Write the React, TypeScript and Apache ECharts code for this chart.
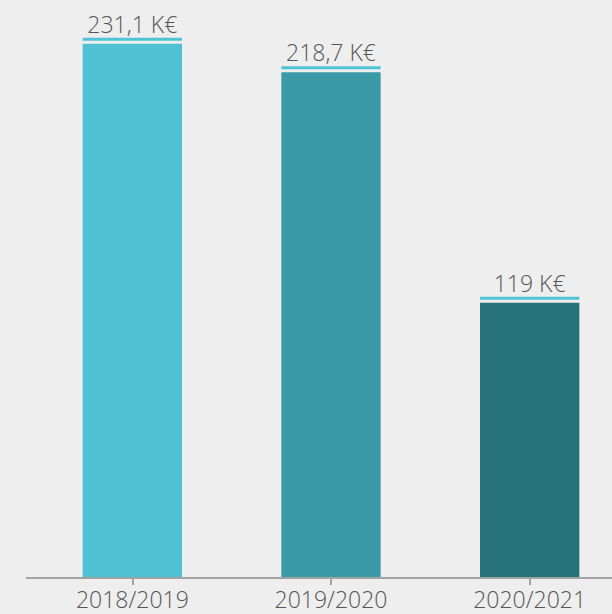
import React, { useEffect, useRef } from "react";
import * as echarts from "echarts";

const categories = ["2018/2019", "2019/2020", "2020/2021"];
const values = [231.1, 218.7, 119];
const valueLabels = ["231,1 K€", "218,7 K€", "119 K€"];
const barColors = ["#4fc1d2", "#3a9aa7", "#26737b"];

export default function App() {
  const ref = useRef<HTMLDivElement>(null);
  useEffect(() => {
    if (!ref.current) return;
    const chart = echarts.init(ref.current, null, { renderer: "svg" });
    const font = "'Open Sans', 'Noto Sans', sans-serif";
    chart.setOption({
      animation: false,
      backgroundColor: "#eeeeee",
      grid: { left: 33, right: 0, top: 0, height: 578, containLabel: false },
      xAxis: [
        {
          type: "category",
          data: categories,
          axisLine: { show: false },
          axisTick: { show: true, alignWithLabel: true, length: 7, lineStyle: { color: "#a3a3a3", width: 2 } },
          axisLabel: { color: "#555555", fontSize: 23, fontWeight: 300, fontFamily: font, margin: 9 },
        },
        {
          type: "category",
          data: categories,
          position: "bottom",
          axisLine: { show: false },
          axisTick: { show: true, inside: true, alignWithLabel: true, length: 6, lineStyle: { color: "#a3a3a3", width: 2 } },
          axisLabel: { show: false },
        },
      ],
      yAxis: {
        type: "value",
        min: 0,
        max: 250,
        show: false,
        splitLine: { show: false },
      },
      graphic: [
        {
          type: "line",
          shape: { x1: 26, y1: 578, x2: 640, y2: 578 },
          style: { stroke: "#a3a3a3", lineWidth: 2 },
          z: 10,
        },
      ],
      series: [
        {
          type: "bar",
          barWidth: "50%",
          data: values.map((v, i) => ({ value: v, itemStyle: { color: barColors[i] } })),
          z: 2,
        },
        {
          type: "custom",
          clip: false,
          z: 5,
          data: values.map((v, i) => [i, v]),
          renderItem: (params: any, api: any) => {
            const idx = params.dataIndex;
            const pt = api.coord([api.value(0), api.value(1)]);
            const band = api.size([1, 0])[0];
            const w = band * 0.5;
            const top = pt[1];
            return {
              type: "group",
              children: [
                {
                  type: "rect",
                  shape: { x: pt[0] - w / 2, y: top - 6, width: w, height: 3 },
                  style: { fill: "#4cc4d6" },
                },
                {
                  type: "text",
                  x: pt[0],
                  y: top - 20,
                  style: {
                    text: valueLabels[idx],
                    fill: "#555555",
                    fontSize: 23,
                    fontWeight: 300,
                    fontFamily: font,
                    align: "center",
                    verticalAlign: "middle",
                  },
                },
              ],
            };
          },
        },
      ],
    });
    return () => chart.dispose();
  }, []);
  return (
    <div style={{ position: "fixed", left: 0, top: 0, width: 612, height: 614, overflow: "hidden", background: "#eeeeee" }}>
      <div ref={ref} style={{ width: 629, height: 614 }} />
    </div>
  );
}
